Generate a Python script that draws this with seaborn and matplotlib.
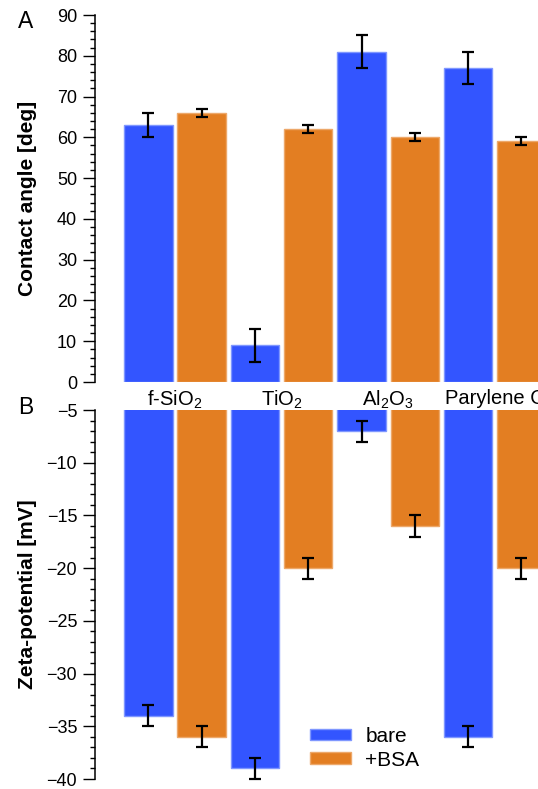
import matplotlib
matplotlib.use("Agg")
import matplotlib.pyplot as plt
import seaborn as sns
import pandas as pd
from matplotlib.ticker import MultipleLocator
from matplotlib.patches import Patch

# ---- data ----
materials = ["f-SiO$_2$", "TiO$_2$", "Al$_2$O$_3$", "Parylene C"]
conditions = ["bare", "+BSA"]
angle_bare = [63, 9, 81, 77]
angle_bare_err = [3, 4, 4, 4]
angle_bsa = [66, 62, 60, 59]
angle_bsa_err = [1, 1, 1, 1]
zeta_bare = [-34, -39, -7, -36]
zeta_bare_err = [1, 1, 1, 1]
zeta_bsa = [-36, -20, -16, -20]
zeta_bsa_err = [1, 1, 1, 1]

colors = ["#3355FF", "#E37E22"]
edge_colors = ["#7F97FF", "#EDA86A"]

sns.set_style("ticks")
plt.rcParams["font.family"] = ["Liberation Sans", "DejaVu Sans"]
plt.rcParams["mathtext.fontset"] = "custom"
plt.rcParams["mathtext.rm"] = "Liberation Sans"
plt.rcParams["mathtext.it"] = "Liberation Sans:italic"
plt.rcParams["mathtext.bf"] = "Liberation Sans:bold"
for k in ["text.color", "axes.labelcolor", "xtick.color", "ytick.color",
          "axes.edgecolor"]:
    plt.rcParams[k] = "black"

W, H = 538, 789
fig = plt.figure(figsize=(W / 100, H / 100), dpi=100)
axA = fig.add_axes([95 / W, 1 - 382 / H, (W - 95) / W, (382 - 15) / H])
axB = fig.add_axes([95 / W, 1 - 779 / H, (W - 95) / W, (779 - 410) / H])

dfA = pd.DataFrame({
    "material": materials * 2,
    "condition": ["bare"] * 4 + ["+BSA"] * 4,
    "value": angle_bare + angle_bsa,
    "err": angle_bare_err + angle_bsa_err,
})
dfB = pd.DataFrame({
    "material": materials * 2,
    "condition": ["bare"] * 4 + ["+BSA"] * 4,
    "value": zeta_bare + zeta_bsa,
    "err": zeta_bare_err + zeta_bsa_err,
})


def draw(ax, df):
    sns.barplot(data=df, x="material", y="value", hue="condition",
                hue_order=conditions, order=materials, palette=colors,
                width=1.0, gap=0.09, errorbar=None, ax=ax, legend=False,
                saturation=1, linewidth=1.0)
    for cont, cond, ec in zip(ax.containers, conditions, edge_colors):
        for b in cont:
            b.set_edgecolor(ec)
        sub = df[df.condition == cond].set_index("material").loc[materials]
        xs = [b.get_x() + b.get_width() / 2 for b in cont]
        eb = ax.errorbar(xs, sub["value"].values, yerr=sub["err"].values,
                         fmt="none", ecolor="black", elinewidth=1.6,
                         capsize=4.3, capthick=1.6, zorder=5)
        for art in eb.lines[1] + eb.lines[2]:
            art.set_clip_on(False)
    for s in ["top", "right", "bottom"]:
        ax.spines[s].set_visible(False)
    ax.spines["left"].set_linewidth(1.1)
    ax.set_xlim(-0.750, 3.405)
    ax.set_xlabel("")
    ax.tick_params(axis="y", which="major", direction="out", length=8.5,
                   width=1.0, labelsize=13, pad=4.3)
    ax.tick_params(axis="y", which="minor", direction="out", length=3.6,
                   width=1.0)


draw(axA, dfA)
draw(axB, dfB)

axA.set_ylim(0, 90)
axA.yaxis.set_major_locator(MultipleLocator(10))
axA.yaxis.set_minor_locator(MultipleLocator(2))
axA.tick_params(axis="x", length=0, labelsize=14.5, pad=5)
axA.set_ylabel("Contact angle [deg]", fontweight="bold", fontsize=15)
axA.yaxis.set_label_coords(-0.132, 0.5)

axB.set_ylim(-40, -5)
axB.yaxis.set_major_locator(MultipleLocator(5))
axB.yaxis.set_minor_locator(MultipleLocator(1))
axB.tick_params(axis="x", bottom=False, labelbottom=False)
axB.set_ylabel("Zeta-potential [mV]", fontweight="bold", fontsize=15)
axB.yaxis.set_label_coords(-0.132, 0.5)

fig.text(18 / W, 1 - 21 / H, "A", fontsize=16.5, ha="left", va="center")
fig.text(18 / W, 1 - 408 / H, "B", fontsize=16.5, ha="left", va="center")

handles = [Patch(facecolor=c, edgecolor=e, linewidth=1.0)
           for c, e in zip(colors, edge_colors)]
axB.legend(handles, conditions, loc="upper left",
           bbox_to_anchor=(310 / W, 1 - 727 / H), bbox_transform=fig.transFigure,
           frameon=False, fontsize=15, handlelength=1.95, handleheight=0.48,
           handletextpad=0.7, labelspacing=0.22, borderaxespad=0, borderpad=0)

fig.savefig("out.png", dpi=100)
